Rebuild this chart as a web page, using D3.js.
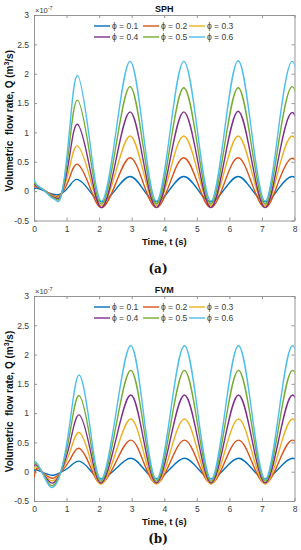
<!DOCTYPE html>
<html>
<head>
<meta charset="utf-8">
<script src="https://cdn.jsdelivr.net/npm/d3@7"></script>
<style>
  html, body { margin: 0; padding: 0; background: #fff; }
  svg { display: block; font-family: "Liberation Sans", Arial, sans-serif; }
</style>
</head>
<body>
<svg id="chart" width="301" height="550"></svg>
<script>
// Values in units of 1e-7 m^3/s
const seriesNames = ["\u03d5 = 0.1", "\u03d5 = 0.2", "\u03d5 = 0.3", "\u03d5 = 0.4", "\u03d5 = 0.5", "\u03d5 = 0.6"];
const seriesColors = ["#0072BD", "#D95319", "#EDB120", "#7E2F8E", "#77AC30", "#4DBEEE"];
const xTicks = [0, 1, 2, 3, 4, 5, 6, 7, 8];
const yTicks = [-0.5, 0, 0.5, 1, 1.5, 2, 2.5, 3];

// (a) SPH  (last sample lies just past the axis end, clipped)
const timeSPH = [0, 0.1, 0.3, 0.5, 0.68, 0.85, 1.08, 1.33, 1.7, 2.08, 2.52, 2.95, 3.35, 3.76, 4.18, 4.6, 5.02, 5.43, 5.85, 6.27, 6.68, 7.1, 7.5, 7.93, 8.33];
const sph01 = [0.04, 0.05, 0.01, -0.04, -0.06, -0.04, 0.08, 0.2, 0.01, -0.18, 0.035, 0.25, 0.035, -0.18, 0.035, 0.25, 0.035, -0.18, 0.035, 0.25, 0.035, -0.18, 0.035, 0.25, 0.035];
const sph02 = [0.08, 0.07, 0.02, -0.05, -0.09, -0.04, 0.21, 0.46, 0.09, -0.28, 0.145, 0.57, 0.145, -0.28, 0.145, 0.57, 0.145, -0.28, 0.145, 0.57, 0.145, -0.28, 0.145, 0.56, 0.145];
const sph03 = [0.1, 0.08, 0.02, -0.06, -0.11, -0.04, 0.37, 0.77, 0.26, -0.25, 0.345, 0.94, 0.345, -0.25, 0.345, 0.94, 0.345, -0.25, 0.345, 0.94, 0.345, -0.25, 0.345, 0.94, 0.345];
const sph04 = [0.12, 0.08, 0.02, -0.07, -0.12, -0.04, 0.55, 1.14, 0.43, -0.28, 0.535, 1.35, 0.535, -0.28, 0.535, 1.35, 0.535, -0.28, 0.535, 1.36, 0.535, -0.28, 0.535, 1.34, 0.53];
const sph05 = [0.15, 0.09, 0.02, -0.08, -0.14, -0.04, 0.76, 1.55, 0.67, -0.22, 0.78, 1.78, 0.77, -0.22, 0.77, 1.76, 0.77, -0.22, 0.77, 1.76, 0.77, -0.22, 0.78, 1.78, 0.78];
const sph06 = [0.2, 0.1, 0.02, -0.09, -0.16, -0.04, 0.97, 1.97, 0.9, -0.17, 1.02, 2.21, 1.02, -0.17, 1.02, 2.21, 1.02, -0.17, 1.025, 2.22, 1.025, -0.17, 1.02, 2.21, 1.02];

// (b) FVM
const timeFVM = [0, 0.1, 0.3, 0.45, 0.6, 0.82, 1.1, 1.38, 1.72, 2.07, 2.52, 2.97, 3.36, 3.76, 4.19, 4.62, 5.03, 5.44, 5.86, 6.28, 6.69, 7.1, 7.52, 7.94, 8.34];
const fvm01 = [0.02, 0.03, -0.02, -0.05, -0.06, -0.01, 0.085, 0.18, 0.03, -0.12, 0.055, 0.23, 0.055, -0.12, 0.055, 0.23, 0.055, -0.12, 0.055, 0.23, 0.055, -0.12, 0.055, 0.23, 0.055];
const fvm02 = [-0.1, 0.06, -0.03, -0.09, -0.11, -0.01, 0.2, 0.4, 0.1, -0.2, 0.17, 0.54, 0.17, -0.2, 0.17, 0.54, 0.17, -0.2, 0.17, 0.54, 0.17, -0.2, 0.17, 0.54, 0.17];
const fvm03 = [0.05, 0.08, -0.04, -0.13, -0.15, -0.01, 0.33, 0.67, 0.23, -0.21, 0.345, 0.9, 0.345, -0.21, 0.345, 0.9, 0.345, -0.21, 0.345, 0.9, 0.345, -0.21, 0.345, 0.9, 0.345];
const fvm04 = [0.1, 0.1, -0.05, -0.16, -0.19, -0.01, 0.48, 0.97, 0.39, -0.19, 0.56, 1.31, 0.56, -0.19, 0.56, 1.31, 0.56, -0.19, 0.56, 1.31, 0.56, -0.19, 0.56, 1.31, 0.56];
const fvm05 = [0.15, 0.12, -0.06, -0.2, -0.23, -0.01, 0.65, 1.3, 0.57, -0.16, 0.785, 1.73, 0.785, -0.16, 0.785, 1.73, 0.785, -0.16, 0.785, 1.73, 0.785, -0.16, 0.785, 1.73, 0.785];
const fvm06 = [0.18, 0.14, -0.07, -0.23, -0.26, -0.01, 0.82, 1.65, 0.76, -0.13, 1.01, 2.15, 1.01, -0.13, 1.01, 2.15, 1.01, -0.13, 1.01, 2.15, 1.01, -0.13, 1.01, 2.15, 1.01];

const panels = [
    { title: "SPH", tag: "(a)", tagY: 273, top: 15, bottom: 220.5, time: timeSPH, series: [sph01, sph02, sph03, sph04, sph05, sph06] },
    { title: "FVM", tag: "(b)", tagY: 543, top: 296, bottom: 501, time: timeFVM, series: [fvm01, fvm02, fvm03, fvm04, fvm05, fvm06] }
];

const svg = d3.select("#chart");
const left = 34, right = 294.5;
const axisColor = "#8a8a8a";
const textColor = "#3a3a3a";

panels.forEach((p, pi) => {
    const g = svg.append("g");

    const x = d3.scaleLinear().domain([0, 8]).range([left, right]);
    const y = d3.scaleLinear().domain([-0.5, 3]).range([p.bottom, p.top]);

    // Clip lines to the plot box
    const clipId = "clip" + pi;
    svg.append("clipPath").attr("id", clipId)
        .append("rect")
        .attr("x", left).attr("y", p.top)
        .attr("width", right - left).attr("height", p.bottom - p.top);

    // Axes with inward ticks on all four sides
    const fmt = (d) => String(d);
    const axes = [
        g.append("g").attr("transform", `translate(0,${p.bottom})`)
            .call(d3.axisBottom(x).tickValues(xTicks).tickFormat(fmt).tickSizeInner(-3).tickSizeOuter(0).tickPadding(5)),
        g.append("g").attr("transform", `translate(0,${p.top})`)
            .call(d3.axisTop(x).tickValues(xTicks).tickFormat("").tickSizeInner(-3).tickSizeOuter(0)),
        g.append("g").attr("transform", `translate(${left},0)`)
            .call(d3.axisLeft(y).tickValues(yTicks).tickFormat(fmt).tickSizeInner(-3).tickSizeOuter(0).tickPadding(5)),
        g.append("g").attr("transform", `translate(${right},0)`)
            .call(d3.axisRight(y).tickValues(yTicks).tickFormat("").tickSizeInner(-3).tickSizeOuter(0))
    ];
    axes.forEach((a) => {
        a.select(".domain").attr("stroke", axisColor).attr("stroke-width", 0.9);
        a.selectAll(".tick line").attr("stroke", axisColor).attr("stroke-width", 0.9);
        a.selectAll(".tick text")
            .attr("fill", textColor)
            .style("font-size", "8.5px")
            .style("font-family", "'Liberation Sans', Arial, sans-serif");
    });

    // Data lines
    const line = d3.line()
        .x((d) => x(d[0]))
        .y((d) => y(d[1]))
        .curve(d3.curveNatural);

    g.append("g").attr("clip-path", `url(#${clipId})`)
        .selectAll("path")
        .data(p.series)
        .enter()
        .append("path")
        .attr("d", (vals) => line(vals.map((v, i) => [p.time[i], v])))
        .attr("fill", "none")
        .attr("stroke", (d, i) => seriesColors[i])
        .attr("stroke-width", 1.4);

    // Exponent label
    const expo = g.append("text")
        .attr("x", left + 1).attr("y", p.top - 2)
        .attr("fill", textColor)
        .style("font-size", "7.5px");
    expo.append("tspan").text("\u00d710");
    expo.append("tspan").attr("dy", -3).style("font-size", "5.5px").text("-7");

    // Title
    g.append("text")
        .attr("x", (left + right) / 2).attr("y", p.top - 3)
        .attr("text-anchor", "middle")
        .attr("fill", "#111")
        .style("font-size", "9px").style("font-weight", "bold")
        .text(p.title);

    // X label
    g.append("text")
        .attr("x", (left + right) / 2).attr("y", p.bottom + 24)
        .attr("text-anchor", "middle")
        .attr("fill", "#111")
        .style("font-size", "9.5px").style("font-weight", "bold")
        .text("Time, t (s)");

    // Y label
    const yl = g.append("text")
        .attr("transform", `translate(13,${(p.top + p.bottom) / 2 + 3}) rotate(-90)`)
        .attr("text-anchor", "middle")
        .attr("fill", "#111")
        .style("font-size", "10px").style("font-weight", "bold");
    yl.append("tspan").text("Volumetric\u00a0\u00a0flow rate, Q (m");
    yl.append("tspan").attr("dy", -4).style("font-size", "7px").text("3");
    yl.append("tspan").attr("dy", 4).text("/s)");

    // Legend: 3 columns x 2 rows, no box
    const legendCols = [94, 143, 189];
    const legend = g.append("g")
        .selectAll("g")
        .data(seriesNames)
        .enter()
        .append("g")
        .attr("transform", (d, i) => `translate(${legendCols[i % 3]},${p.top + 11 + Math.floor(i / 3) * 11})`);
    legend.append("line")
        .attr("x1", 0).attr("x2", 16)
        .attr("stroke", (d, i) => seriesColors[i])
        .attr("stroke-width", 1.4);
    legend.append("text")
        .attr("x", 18).attr("y", 3)
        .attr("fill", textColor)
        .style("font-size", "8.5px")
        .text((d) => d);

    // Panel tag
    g.append("text")
        .attr("x", 158).attr("y", p.tagY)
        .attr("text-anchor", "middle")
        .attr("fill", "#111")
        .style("font-family", "'DejaVu Serif', 'Liberation Serif', serif")
        .style("font-size", "12px").style("font-weight", "bold")
        .text(p.tag);
});
</script>
</body>
</html>
